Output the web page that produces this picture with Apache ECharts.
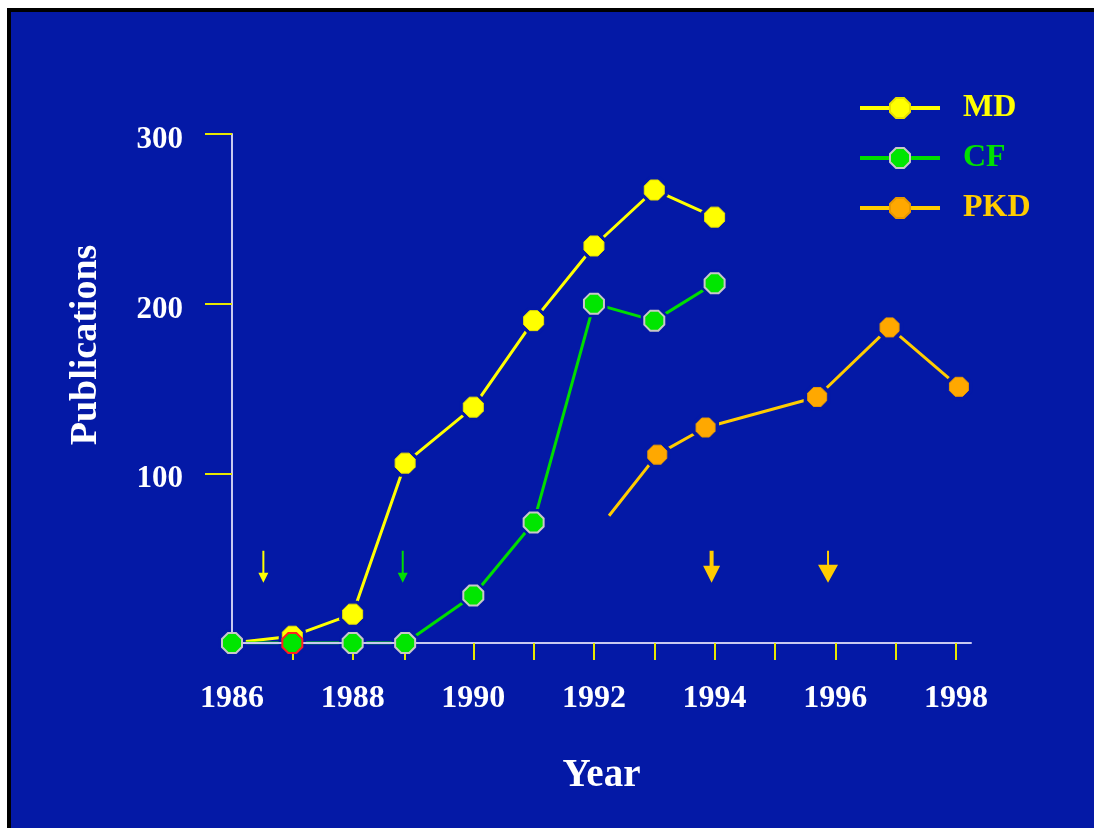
<!DOCTYPE html>
<html>
<head>
<meta charset="utf-8">
<script src="https://cdn.jsdelivr.net/npm/echarts@6/dist/echarts.min.js"></script>
<style>
  html, body { margin: 0; padding: 0; background: #ffffff; width: 1094px; height: 828px; overflow: hidden; }
  #frame { position: absolute; left: 7px; top: 8px; width: 1087px; height: 820px; background: #000000; }
  #chart { position: absolute; left: 11px; top: 12px; width: 1083px; height: 816px; }
</style>
</head>
<body>
<div id="frame"></div>
<div id="chart"></div>
<script>
// ---- data ----
const mdYears   = [1986, 1987, 1988, 1988.87, 1990, 1991, 1992, 1993, 1994];
const mdValues  = [0, 4, 17, 106, 139, 190, 234, 267, 251];

const cfYears   = [1986, 1987, 1988, 1988.87, 1990, 1991, 1992, 1993, 1994];
const cfValues  = [0, 0, 0, 0, 28, 71, 200, 190, 212];
const cfRedRim  = [false, true, false, false, false, false, false, false, false];

const pkdYears  = [1992.25, 1993.05, 1993.85, 1995.7, 1996.9, 1998.05];
const pkdValues = [75, 111, 127, 145, 186, 151];
const pkdMarker = [false, true, true, true, true, true];

const arrowYears  = [1986.52, 1988.83, 1993.95, 1995.88];
const arrowLevel  = [45, 45, 45, 45];
const arrowColors = ['#ffff00', '#00dd00', '#ffcc00', '#ffcc00'];
const arrowKinds  = ['small', 'small', 'bold', 'wide'];

const xTickValues  = [1987, 1988, 1988.87, 1990, 1991, 1992, 1993, 1994, 1995, 1996, 1997, 1998];
const xLabelValues = [1986, 1988, 1990, 1992, 1994, 1996, 1998];
const yTickValues  = [100, 200, 300];

// ---- styles ----
const BG = '#0419a6';
const FONT = "'Liberation Serif', 'Times New Roman', serif";
const shadow = { textShadowColor: '#000000', textShadowOffsetX: 2, textShadowOffsetY: 2, textShadowBlur: 0 };
const OCT = 'path://M3,0 L7,0 L10,3 L10,7 L7,10 L3,10 L0,7 L0,3 Z';
const ARROWS = {
  small: { path: 'path://M4,0 L6,0 L6,22 L10,22 L5,32 L0,22 L4,22 Z', size: [10, 32] },
  bold:  { path: 'path://M6.5,0 L10.5,0 L10.5,15 L17,15 L8.5,32 L0,15 L6.5,15 Z', size: [17, 32] },
  wide:  { path: 'path://M9,0 L11,0 L11,14 L20,14 L10,32 L0,14 L9,14 Z', size: [20, 32] }
};

const mdData = mdYears.map((x, i) => [x, mdValues[i]]);
const cfData = cfYears.map((x, i) => cfRedRim[i]
  ? { value: [x, cfValues[i]], itemStyle: { borderColor: '#ff2020' } }
  : [x, cfValues[i]]);
const pkdData = pkdYears.map((x, i) => pkdMarker[i]
  ? [x, pkdValues[i]]
  : { value: [x, pkdValues[i]], symbol: 'none' });
const pkdMarkData = pkdYears.map((x, i) => [x, pkdValues[i]]).filter((d, i) => pkdMarker[i]);
const haloData = mdData.concat(cfYears.map((x, i) => [x, cfValues[i]])).concat(pkdMarkData);
const arrowData = arrowYears.map((x, i) => ({
  value: [x, arrowLevel[i]],
  symbol: ARROWS[arrowKinds[i]].path,
  symbolSize: ARROWS[arrowKinds[i]].size,
  itemStyle: { color: arrowColors[i], opacity: 1 }
}));

const mdItem  = { color: '#ffff00', borderColor: '#e8e000', borderWidth: 1, opacity: 1 };
const cfItem  = { color: '#00e600', borderColor: '#c8c8c8', borderWidth: 2, opacity: 1 };
const pkdItem = { color: '#ffa800', borderColor: '#e89800', borderWidth: 1, opacity: 1 };

const chart = echarts.init(document.getElementById('chart'), null, { renderer: 'canvas' });
chart.setOption({
  animation: false,
  backgroundColor: BG,
  grid: { left: 221, top: 122, right: 123, bottom: 185, containLabel: false },
  legend: {
    orient: 'vertical',
    left: 847, top: 80,
    padding: 0,
    itemWidth: 80, itemHeight: 25, itemGap: 18,
    lineStyle: { width: 4 },
    textStyle: Object.assign({ fontFamily: FONT, fontWeight: 'bold', fontSize: 32, padding: [0, 0, 0, 18] }, shadow),
    data: [
      { name: 'MD',  textStyle: { color: '#ffff00' } },
      { name: 'CF',  textStyle: { color: '#00e000' } },
      { name: 'PKD', textStyle: { color: '#ffcc00' } }
    ]
  },
  xAxis: {
    type: 'value', z: 4,
    min: 1986, max: 1998.25,
    name: 'Year',
    nameLocation: 'middle',
    nameGap: 113,
    nameTextStyle: Object.assign({ color: '#ffffff', fontFamily: FONT, fontWeight: 'bold', fontSize: 39 }, shadow),
    axisLine: { show: true, lineStyle: { color: '#c8c8f0', width: 2 } },
    axisTick: { show: true, customValues: xTickValues, length: 17, lineStyle: { color: '#e8e800', width: 2 } },
    axisLabel: {
      customValues: xLabelValues,
      formatter: v => String(Math.round(v)),
      margin: 40,
      color: '#ffffff', fontFamily: FONT, fontWeight: 'bold', fontSize: 32,
      textShadowColor: '#000000', textShadowOffsetX: 2, textShadowOffsetY: 2, textShadowBlur: 0
    },
    splitLine: { show: false }
  },
  yAxis: {
    type: 'value', z: 4,
    min: 0, max: 300, interval: 100,
    name: 'Publications',
    nameLocation: 'middle',
    nameGap: 127,
    nameRotate: 90,
    nameTextStyle: Object.assign({ color: '#ffffff', fontFamily: FONT, fontWeight: 'bold', fontSize: 38, padding: [0, 0, 0, 87] }, shadow),
    axisLine: { show: true, lineStyle: { color: '#c8c8f0', width: 2 } },
    axisTick: { show: true, customValues: yTickValues, length: 27, lineStyle: { color: '#e8e800', width: 2 } },
    axisLabel: {
      customValues: yTickValues,
      formatter: v => '{t|' + v + '}',
      margin: 49,
      rich: {
        t: Object.assign({ color: '#ffffff', fontFamily: FONT, fontWeight: 'bold', fontSize: 31, padding: [12, 0, 0, 0] }, shadow)
      }
    },
    splitLine: { show: false }
  },
  series: [
    {
      name: 'MD', type: 'line', z: 2,
      data: mdData,
      symbol: OCT, symbolSize: 20,
      lineStyle: { color: '#ffff00', width: 3 },
      itemStyle: mdItem
    },
    {
      name: 'CF', type: 'line', z: 2,
      data: cfData,
      symbol: OCT, symbolSize: 20,
      lineStyle: { color: '#00dd00', width: 3 },
      itemStyle: cfItem
    },
    {
      name: 'PKD', type: 'line', z: 2,
      data: pkdData,
      symbol: OCT, symbolSize: 19,
      lineStyle: { color: '#ffcc00', width: 3 },
      itemStyle: pkdItem
    },
    {
      name: 'gap', type: 'scatter', z: 3, silent: true,
      data: haloData,
      symbol: OCT, symbolSize: 27,
      itemStyle: { color: BG, opacity: 1 }
    },
    {
      name: 'MD points', type: 'scatter', z: 5, silent: true,
      data: mdData, symbol: OCT, symbolSize: 20, itemStyle: mdItem
    },
    {
      name: 'PKD points', type: 'scatter', z: 5, silent: true,
      data: pkdMarkData, symbol: OCT, symbolSize: 19, itemStyle: pkdItem
    },
    {
      name: 'CF points', type: 'scatter', z: 6, silent: true,
      data: cfData, symbol: OCT, symbolSize: 20, itemStyle: cfItem
    },
    {
      name: 'events', type: 'scatter', z: 2, silent: true,
      data: arrowData,
      itemStyle: { opacity: 1 }
    }
  ]
});
</script>
</body>
</html>
